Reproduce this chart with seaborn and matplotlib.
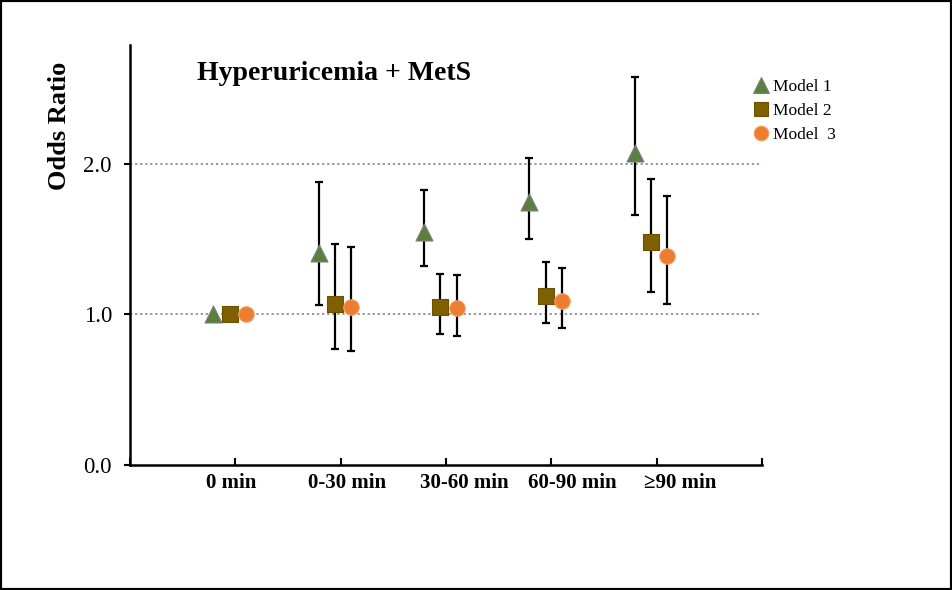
import matplotlib
matplotlib.use("Agg")
import matplotlib.pyplot as plt
from matplotlib.patches import Rectangle
from matplotlib.lines import Line2D
import seaborn as sns
import numpy as np
import pandas as pd

categories = ["0 min", "0-30 min", "30-60 min", "60-90 min", "\u226590 min"]
models = ["Model 1", "Model 2", "Model  3"]

m1_or = [1.00, 1.41, 1.55, 1.75, 2.07]
m1_lo = [np.nan, 1.06, 1.32, 1.50, 1.66]
m1_hi = [np.nan, 1.88, 1.83, 2.04, 2.58]

m2_or = [1.00, 1.07, 1.05, 1.12, 1.48]
m2_lo = [np.nan, 0.77, 0.87, 0.94, 1.15]
m2_hi = [np.nan, 1.47, 1.27, 1.35, 1.90]

m3_or = [1.00, 1.05, 1.04, 1.09, 1.39]
m3_lo = [np.nan, 0.76, 0.86, 0.91, 1.07]
m3_hi = [np.nan, 1.45, 1.26, 1.31, 1.79]

yticks = [0.0, 1.0, 2.0]
ytick_labels = ["0.0", "1.0", "2.0"]

sns.set_theme(style="white")
plt.rcParams["font.family"] = ["Liberation Serif", "DejaVu Serif"]
plt.rcParams["text.color"] = "black"
plt.rcParams["axes.labelcolor"] = "black"
plt.rcParams["xtick.color"] = "black"
plt.rcParams["ytick.color"] = "black"

fig = plt.figure(figsize=(9.52, 5.9), dpi=100)
ax = fig.add_axes([130 / 952, 1 - 465 / 590, 632 / 952, 420 / 590])

colors = ["#5b7f3e", "#7f6000", "#ed7d31"]
edges = ["#808080", "#6b5200", "#f4a06a"]
markers = ["^", "s", "o"]
sizes = [150, 132, 125]
offsets = [-0.21, -0.055, 0.10]

series = [(m1_or, m1_lo, m1_hi), (m2_or, m2_lo, m2_hi), (m3_or, m3_lo, m3_hi)]

for yv in [1.0, 2.0]:
    ax.axhline(yv, color="#8c8c8c", lw=1.3, ls=(0, (1.2, 1.6)), zorder=1)

xbase = np.arange(len(categories))
for i, (orv, lo, hi) in enumerate(series):
    x = xbase + offsets[i]
    orv = np.array(orv); lo = np.array(lo); hi = np.array(hi)
    mask = ~np.isnan(lo)
    ax.errorbar(x[mask], orv[mask], yerr=[orv[mask] - lo[mask], hi[mask] - orv[mask]],
                fmt="none", ecolor="black", elinewidth=1.6, capsize=3.2, capthick=1.6, zorder=2)
    df = pd.DataFrame({"x": x, "y": orv, "model": models[i]})
    sns.scatterplot(data=df, x="x", y="y", marker=markers[i], s=sizes[i],
                    color=colors[i], edgecolor=edges[i], linewidth=0.8, ax=ax, zorder=3, legend=False)

ax.set_xlim(-1, 5)
ax.set_ylim(0, 2.79)
ax.set_xlabel("")
ax.set_ylabel("Odds Ratio", fontsize=19, fontweight="bold")
ax.yaxis.set_label_coords(-0.094, 0.807)
ax.set_yticks(yticks)
ax.set_yticklabels(ytick_labels, fontsize=16.5)
ax.set_xticks(np.arange(-1, 6))
ax.set_xticklabels([])
ax.tick_params(axis="y", direction="out", length=4, width=1.5, color="black", pad=9, left=True)
ax.tick_params(axis="x", direction="in", length=5, width=1.5, color="black", bottom=True)
for s in ["top", "right"]:
    ax.spines[s].set_visible(False)
for s in ["left", "bottom"]:
    ax.spines[s].set_color("black")
    ax.spines[s].set_linewidth(1.8)

label_x = [-0.04, 1.06, 2.17, 3.20, 4.22]
for lx, lab in zip(label_x, categories):
    ax.text(lx, -0.043, lab, transform=ax.get_xaxis_transform(), ha="center", va="center",
            fontsize=15, fontweight="bold", color="black")

fig.text(197 / 952, 1 - 73 / 590, "Hyperuricemia + MetS", fontsize=20, fontweight="bold",
         ha="left", va="center", color="black")

handles = [Line2D([], [], ls="none", marker=markers[i], markersize=[11, 10, 10.5][i],
                  markerfacecolor=colors[i], markeredgecolor=edges[i], markeredgewidth=0.8)
           for i in range(3)]
fig.legend(handles, models, loc="upper left", bbox_to_anchor=(754 / 952, 1 - 79 / 590),
           frameon=False, fontsize=12.5, handlelength=0.8, handletextpad=0.3,
           labelspacing=0.45, borderpad=0, borderaxespad=0, labelcolor="black")

fig.patches.append(Rectangle((0, 0), 1, 1, transform=fig.transFigure, fill=False,
                             lw=3, ec="black", zorder=10))

fig.savefig("out.png", dpi=100)
